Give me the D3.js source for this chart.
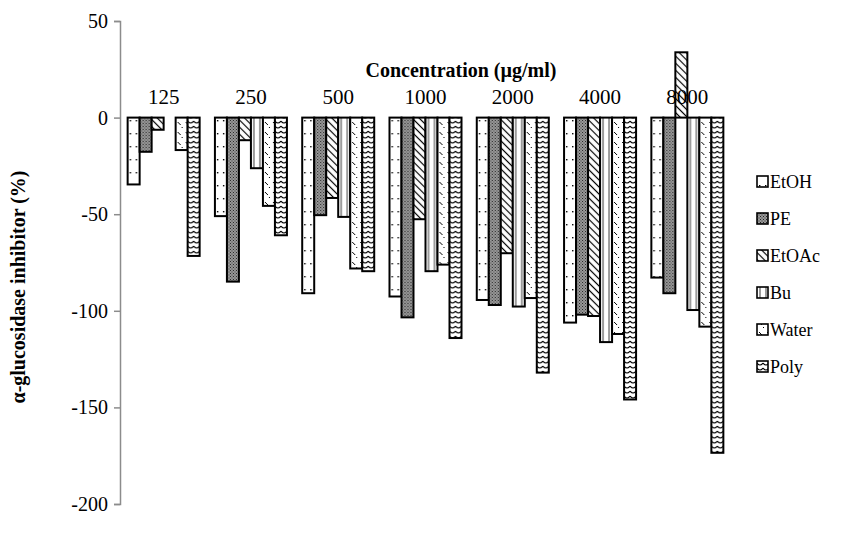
<!DOCTYPE html>
<html>
<head>
<meta charset="utf-8">
<script src="https://cdn.jsdelivr.net/npm/d3@7"></script>
<style>
  body { margin: 0; background: #fff; }
  svg text { font-family: "Liberation Serif", "Times New Roman", serif; fill: #000; }
</style>
</head>
<body>
<svg id="chart" width="847" height="549"></svg>
<script>
// concentrations (µg/ml)
const concentrations = ["125", "250", "500", "1000", "2000", "4000", "8000"];
const seriesNames = ["EtOH", "PE", "EtOAc", "Bu", "Water", "Poly"];

// α-glucosidase inhibitor (%) per series, one value per concentration
const etoh  = [-34.6, -51, -90.9, -92.6, -94.4, -106.1, -82.8];
const pe    = [-17.7, -84.9, -50.5, -103.4, -97, -102, -90.9];
const etoac = [-6.3, -11.7, -41.6, -52.6, -70.2, -102.7, 33.8];
const bu    = [0, -26.2, -51.4, -79.5, -97.8, -116.2, -99.6];
const water = [-16.8, -45.7, -78.1, -76.1, -93.4, -112, -108.2];
const poly  = [-71.6, -60.9, -79.5, -114.1, -132, -145.9, -173.5];
const seriesValues = [etoh, pe, etoac, bu, water, poly];

const yTicks = [50, 0, -50, -100, -150, -200];

const svg = d3.select("#chart");
const defs = svg.append("defs");

// fill patterns, roughly like the excel ones
function pat(id, w, h, draw, transform) {
  const p = defs.append("pattern")
    .attr("id", id)
    .attr("patternUnits", "userSpaceOnUse")
    .attr("width", w).attr("height", h);
  if (transform) p.attr("patternTransform", transform);
  p.append("rect").attr("width", w).attr("height", h).attr("fill", "#fff");
  draw(p);
}
pat("p-etoh", 6, 13, p => {
  p.append("rect").attr("x", 2).attr("y", 3).attr("width", 1.4).attr("height", 1.4).attr("fill", "#000");
});
pat("p-pe", 3, 3, p => {
  p.append("rect").attr("width", 3).attr("height", 3).attr("fill", "#9a9a9a");
  p.append("rect").attr("x", 0).attr("y", 0).attr("width", 1).attr("height", 1).attr("fill", "#222");
  p.append("rect").attr("x", 1.5).attr("y", 1.5).attr("width", 1).attr("height", 1).attr("fill", "#333");
});
pat("p-etoac", 5, 5, p => {
  p.append("line").attr("x1", 2.5).attr("y1", 0).attr("x2", 2.5).attr("y2", 5)
    .attr("stroke", "#000").attr("stroke-width", 1.2);
}, "rotate(-45)");
pat("p-bu", 6, 6, p => {
  p.append("line").attr("x1", 3).attr("y1", 0).attr("x2", 3).attr("y2", 6)
    .attr("stroke", "#666").attr("stroke-width", 1.3);
});
pat("p-water", 8, 10, p => {
  p.append("path").attr("d", "M2,2 L5,5 M6,7 L7,8")
    .attr("stroke", "#000").attr("stroke-width", 1).attr("fill", "none");
});
pat("p-poly", 6, 5, p => {
  p.append("path").attr("d", "M0,1 Q3,5 6,1")
    .attr("stroke", "#000").attr("stroke-width", 1.1).attr("fill", "none");
});
const fills = ["p-etoh", "p-pe", "p-etoac", "p-bu", "p-water", "p-poly"];

const x = d3.scaleBand()
  .domain(concentrations)
  .range([120, 731])
  .paddingInner(0.175)
  .paddingOuter(0.0875);

const xs = d3.scaleBand()
  .domain(seriesNames)
  .range([0, x.bandwidth()]);

const y = d3.scaleLinear()
  .domain([-200, 50])
  .range([504, 21]);

// y axis, grey, ticks outside
const yAxis = svg.append("g")
  .attr("transform", "translate(120,0)")
  .call(d3.axisLeft(y).tickValues(yTicks).tickSize(6).tickPadding(6)
    .tickFormat(d => String(d)));
yAxis.select(".domain").attr("stroke", "#8c8c8c").attr("stroke-width", 1.5);
yAxis.selectAll(".tick line").attr("stroke", "#8c8c8c").attr("stroke-width", 1.5);
yAxis.selectAll(".tick text")
  .attr("font-family", "Liberation Serif")
  .attr("font-size", 20);

// bars
const groups = svg.append("g")
  .selectAll("g")
  .data(concentrations)
  .join("g")
  .attr("transform", d => `translate(${x(d)},0)`);

groups.selectAll("rect")
  .data((c, ci) => seriesNames.map((s, si) => ({ s, si, v: seriesValues[si][ci] })))
  .join("rect")
  .filter(d => d.v !== 0)
  .attr("x", d => xs(d.s))
  .attr("y", d => y(Math.max(0, d.v)))
  .attr("width", xs.bandwidth())
  .attr("height", d => Math.abs(y(d.v) - y(0)))
  .attr("fill", d => `url(#${fills[d.si]})`)
  .attr("stroke", "#000")
  .attr("stroke-width", 2);

// category labels above the bars
svg.append("g")
  .selectAll("text")
  .data(concentrations)
  .join("text")
  .attr("x", d => x(d) + x.bandwidth() / 2)
  .attr("y", 104)
  .attr("text-anchor", "middle")
  .attr("font-size", 21)
  .text(d => d);

svg.append("text")
  .attr("x", 461)
  .attr("y", 77)
  .attr("text-anchor", "middle")
  .attr("font-size", 20)
  .attr("font-weight", "bold")
  .text("Concentration (µg/ml)");

svg.append("text")
  .attr("transform", "translate(25,287) rotate(-90)")
  .attr("text-anchor", "middle")
  .attr("font-size", 20)
  .attr("font-weight", "bold")
  .text("α-glucosidase inhibitor  (%)");

// legend
const legend = svg.append("g")
  .selectAll("g")
  .data(seriesNames)
  .join("g")
  .attr("transform", (d, i) => `translate(757,${182 + i * 37})`);

legend.append("rect")
  .attr("x", 0).attr("y", -6)
  .attr("width", 11).attr("height", 11)
  .attr("fill", (d, i) => `url(#${fills[i]})`)
  .attr("stroke", "#000")
  .attr("stroke-width", 1.6);

legend.append("text")
  .attr("x", 13)
  .attr("y", 6)
  .attr("font-size", 18)
  .text(d => d);
</script>
</body>
</html>
